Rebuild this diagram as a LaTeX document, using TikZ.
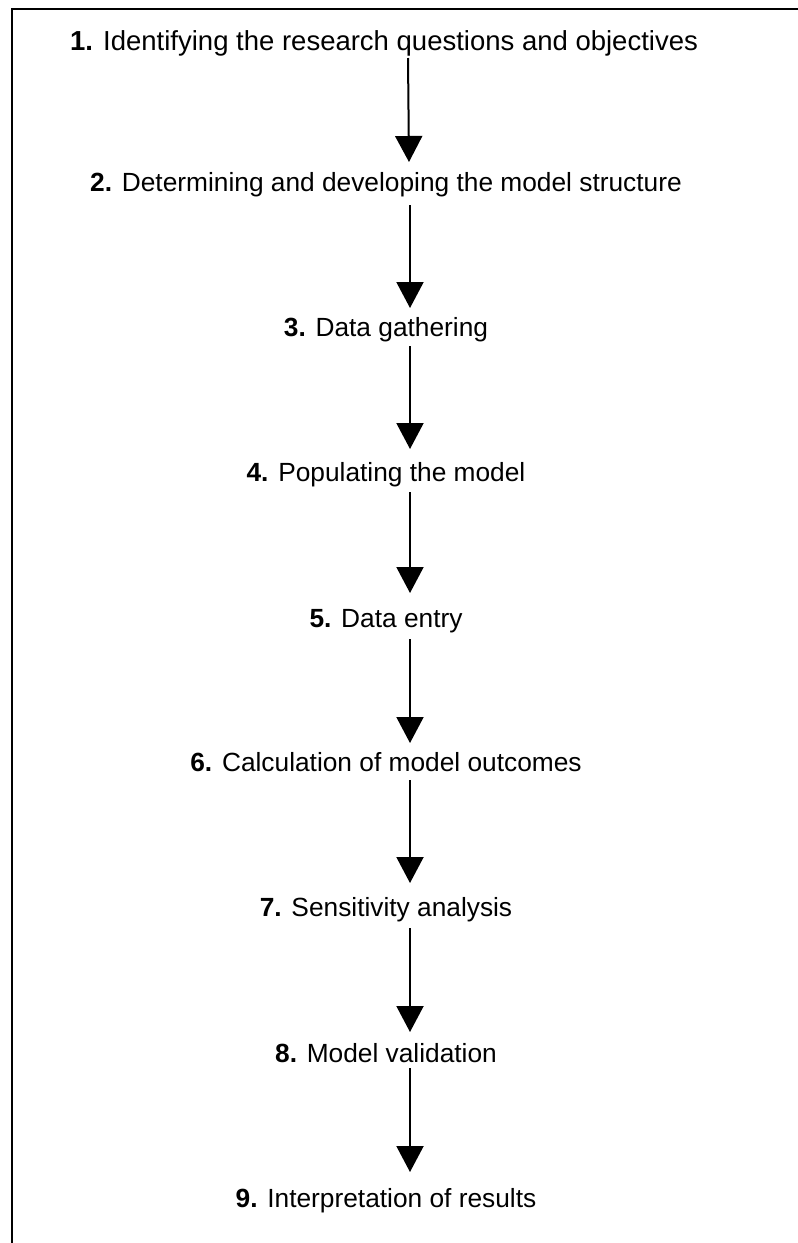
\documentclass[tikz,border=0pt]{standalone}
\usepackage{fontspec}
\setmainfont{Liberation Sans}
\usetikzlibrary{arrows.meta,calc}
\begin{document}
\begin{tikzpicture}[x=1pt,y=-1pt,
  steptext/.style={anchor=base,inner sep=0pt,font=\fontsize{26.3}{30}\selectfont},
  flowarrow/.style={line width=2pt,-{Triangle[length=26pt,width=27pt]}},
  frameline/.style={line width=2pt,black}]
\useasboundingbox (0,0) rectangle (798,1243);
\draw[frameline] (11.5,1243) -- (11.5,8.5) -- (798,8.5);
\coordinate (ax) at (410,0);
\node[steptext,font=\fontsize{27.5}{31}\selectfont] (t1) at (384,50) {\textbf{1.} Identifying the research questions and objectives};
\node[steptext] (t2) at (386,191) {\textbf{2.} Determining and developing the model structure};
\node[steptext] (t3) at (386,336) {\textbf{3.} Data gathering};
\node[steptext] (t4) at (386,481) {\textbf{4.} Populating the model};
\node[steptext] (t5) at (386,627) {\textbf{5.} Data entry};
\node[steptext] (t6) at (386,771) {\textbf{6.} Calculation of model outcomes};
\node[steptext] (t7) at (386,916) {\textbf{7.} Sensitivity analysis};
\node[steptext] (t8) at (386,1062) {\textbf{8.} Model validation};
\node[steptext] (t9) at (386,1207) {\textbf{9.} Interpretation of results};
\draw[flowarrow] ($(t1.base -| ax)+(-2,8)$) -- ($(t2.base -| ax)+(-1,-29)$);
\draw[flowarrow] ($(t2.base -| ax)+(0,14)$) -- ($(t3.base -| ax)+(0,-28)$);
\draw[flowarrow] ($(t3.base -| ax)+(0,10)$) -- ($(t4.base -| ax)+(0,-32)$);
\draw[flowarrow] ($(t4.base -| ax)+(0,11)$) -- ($(t5.base -| ax)+(0,-34)$);
\draw[flowarrow] ($(t5.base -| ax)+(0,12)$) -- ($(t6.base -| ax)+(0,-28)$);
\draw[flowarrow] ($(t6.base -| ax)+(0,9)$) -- ($(t7.base -| ax)+(0,-33)$);
\draw[flowarrow] ($(t7.base -| ax)+(0,12)$) -- ($(t8.base -| ax)+(0,-30)$);
\draw[flowarrow] ($(t8.base -| ax)+(0,6)$) -- ($(t9.base -| ax)+(0,-35)$);
\end{tikzpicture}
\end{document}
